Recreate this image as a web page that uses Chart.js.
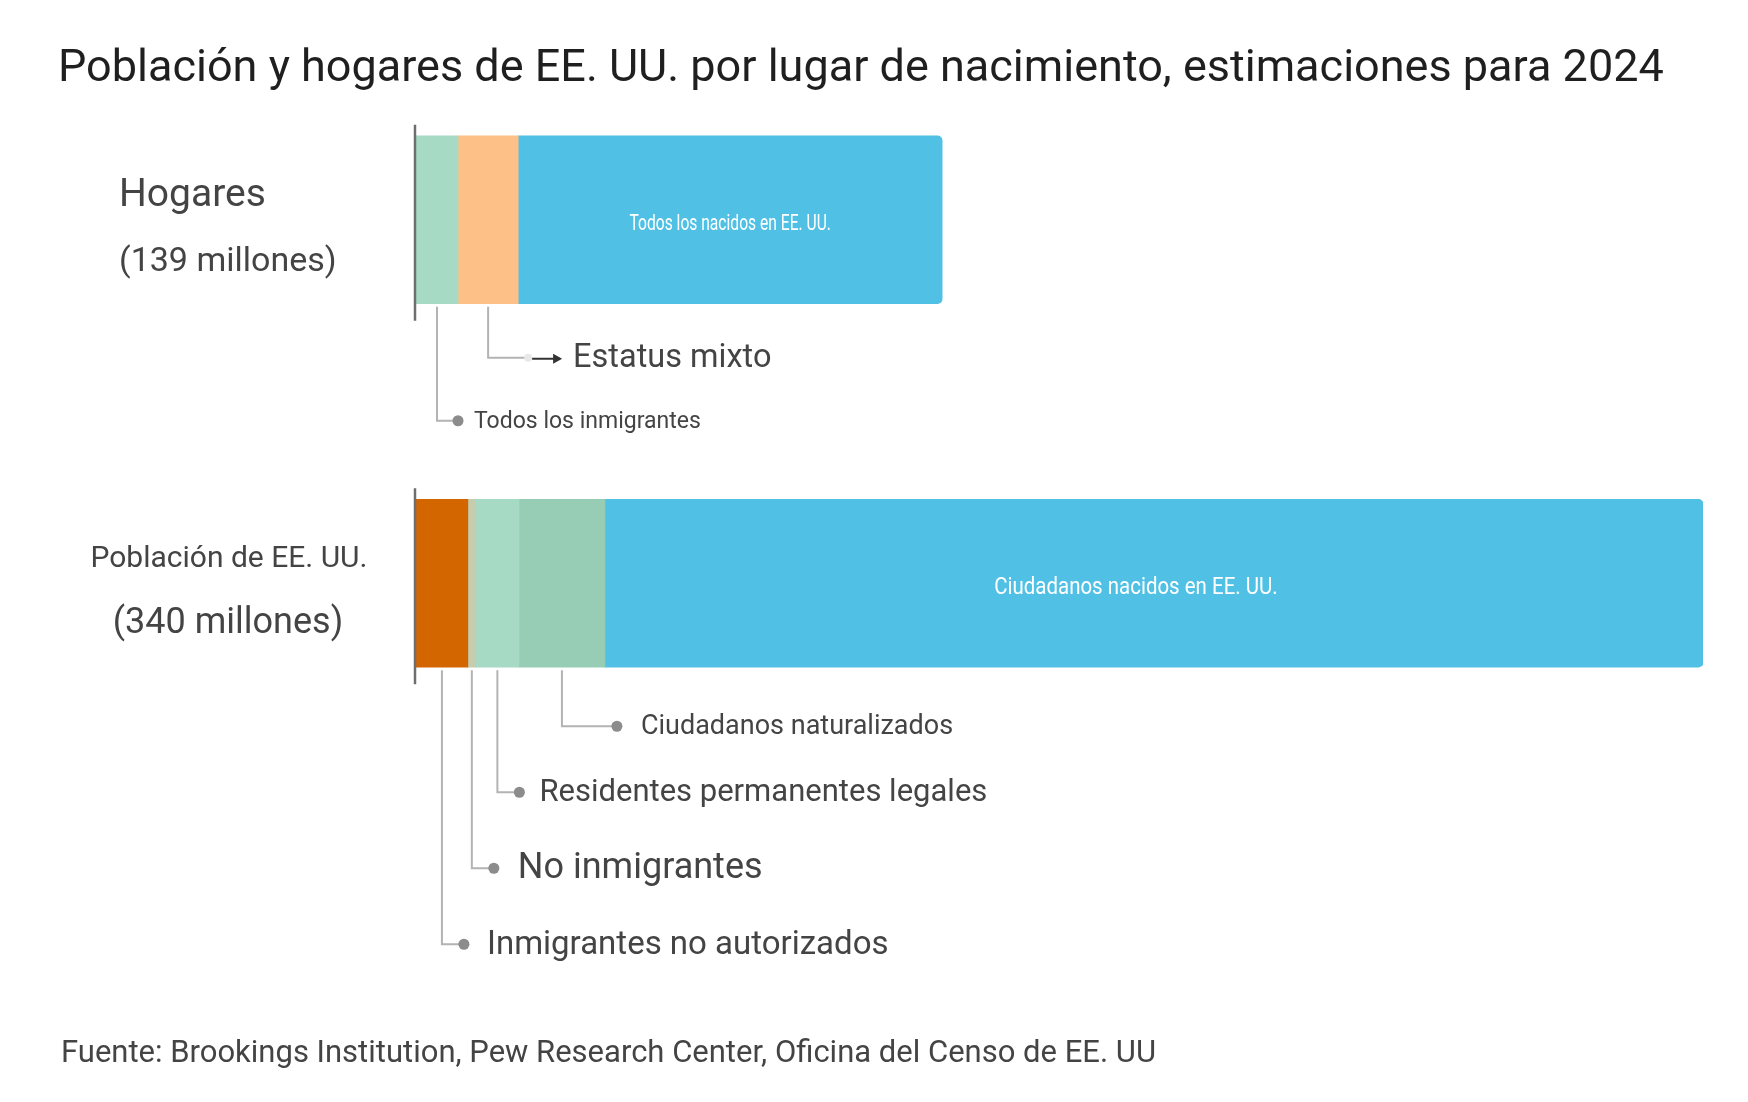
<!DOCTYPE html>
<html>
<head>
<meta charset="utf-8">
<script src="https://cdn.jsdelivr.net/npm/chart.js@4.4.1/dist/chart.umd.min.js"></script>
<style>
  html, body { margin: 0; background: #fff; }
  #wrap { width: 1748px; height: 1102px; position: relative; }
</style>
</head>
<body>
<div id="wrap"><canvas id="chart"></canvas></div>
<script>
const chartTitle = "Población y hogares de EE. UU. por lugar de nacimiento, estimaciones para 2024";
const sourceNote = "Fuente: Brookings Institution, Pew Research Center, Oficina del Censo de EE. UU";

const rows = ["Hogares", "Población de EE. UU."];
const rowTotals = ["(139 millones)", "(340 millones)"];

const householdLabels = ["Todos los inmigrantes", "Estatus mixto", "Todos los nacidos en EE. UU."];
const householdValues = [11.1, 15.9, 112.0];
const householdColors = ["#a6dac5", "#fdc086", "#50c1e5"];

const populationLabels = ["Inmigrantes no autorizados", "No inmigrantes", "Residentes permanentes legales",
                          "Ciudadanos naturalizados", "Ciudadanos nacidos en EE. UU."];
const populationValues = [13.7, 2.1, 11.4, 22.7, 290.1];
const populationColors = ["#d46600", "#c6ccae", "#a6dac5", "#97cdb5", "#50c1e5"];

const axisMax = 340;
const FONT = "Roboto, 'Noto Sans', sans-serif";

// how each segment is labelled (keyed by dataset index)
const callouts = {
    0: { kind: "dot", drop: 117, dotDx: 21, textDx: 16, size: 23 },
    1: { kind: "arrow", drop: 54, size: 32.5 },
    2: { kind: "inside", size: 22, squeeze: 0.71, dx: 0 },
    3: { kind: "dot", drop: 277, dotDx: 22, textDx: 23, size: 33 },
    4: { kind: "dot", drop: 201, dotDx: 22, textDx: 24, size: 36 },
    5: { kind: "dot", drop: 125, dotDx: 22, textDx: 20, size: 31 },
    6: { kind: "dot", drop: 59, dotDx: 55, textDx: 24, size: 27 },
    7: { kind: "inside", size: 23, squeeze: 0.89, dx: -18 }
};

const datasets = [];
householdLabels.forEach((label, i) => {
    datasets.push({ label, data: [householdValues[i], null], backgroundColor: householdColors[i] });
});
populationLabels.forEach((label, i) => {
    datasets.push({ label, data: [null, populationValues[i]], backgroundColor: populationColors[i] });
});
datasets.forEach(ds => {
    ds.barThickness = 168;
    ds.borderWidth = 0;
    ds.borderRadius = 5;
    ds.borderSkipped = "start";
});

const annotate = {
    id: "annotate",
    afterDraw(chart) {
        const ctx = chart.ctx;
        ctx.save();

        ctx.fillStyle = "#1f1f1f";
        ctx.font = "45px " + FONT;
        ctx.textBaseline = "alphabetic";
        ctx.textAlign = "left";
        ctx.fillText(chartTitle, 58, 81);

        ctx.fillStyle = "#444";
        ctx.font = "31px " + FONT;
        ctx.fillText(sourceNote, 61, 1062);

        // row captions and axis stubs
        rows.forEach((row, r) => {
            const first = chart.getDatasetMeta(r === 0 ? 0 : householdLabels.length).data[r];
            const cy = first.y;
            const half = first.height / 2;
            ctx.fillStyle = "#444";
            if (r === 0) {
                ctx.textAlign = "left";
                ctx.font = "39px " + FONT;
                ctx.fillText(row, 119, cy - 14);
                ctx.font = "34px " + FONT;
                ctx.fillText(rowTotals[r], 119, cy + 51);
            } else {
                ctx.textAlign = "center";
                ctx.font = "30px " + FONT;
                ctx.fillText(row, 229, cy - 16);
                ctx.font = "36px " + FONT;
                ctx.fillText(rowTotals[r], 228, cy + 50);
            }
            ctx.strokeStyle = "#6e6e6e";
            ctx.lineWidth = 2.5;
            ctx.beginPath();
            ctx.moveTo(first.base - 1, cy - half - 11);
            ctx.lineTo(first.base - 1, cy + half + 17);
            ctx.stroke();
        });

        // segment callouts
        chart.data.datasets.forEach((ds, i) => {
            const c = callouts[i];
            const row = i < householdLabels.length ? 0 : 1;
            const bar = chart.getDatasetMeta(i).data[row];
            if (!c || !bar) return;
            const mid = (bar.x + bar.base) / 2;
            const bottom = bar.y + bar.height / 2;

            if (c.kind === "inside") {
                ctx.save();
                ctx.translate(mid + c.dx, bar.y + 5);
                ctx.scale(c.squeeze, 1);
                ctx.fillStyle = "#ffffff";
                ctx.font = c.size + "px " + FONT;
                ctx.textAlign = "center";
                ctx.textBaseline = "middle";
                ctx.fillText(ds.label, 0, 0);
                ctx.restore();
                return;
            }

            const ly = bottom + c.drop;
            ctx.strokeStyle = "#b3b3b3";
            ctx.lineWidth = 2;
            ctx.beginPath();
            ctx.moveTo(mid, bottom + 3);
            ctx.lineTo(mid, ly);

            ctx.textAlign = "left";
            ctx.textBaseline = "middle";
            ctx.font = c.size + "px " + FONT;

            if (c.kind === "dot") {
                const dx = mid + c.dotDx;
                ctx.lineTo(dx, ly);
                ctx.stroke();
                ctx.fillStyle = "#8c8c8c";
                ctx.beginPath();
                ctx.arc(dx, ly, 5.5, 0, Math.PI * 2);
                ctx.fill();
                ctx.fillStyle = "#444";
                ctx.fillText(ds.label, dx + c.textDx, ly + 1);
            } else {
                const end = mid + 38;
                ctx.lineTo(end, ly);
                ctx.stroke();
                ctx.fillStyle = "#e8e8e8";
                ctx.beginPath();
                ctx.arc(end + 2, ly, 4, 0, Math.PI * 2);
                ctx.fill();
                // arrow
                ctx.strokeStyle = "#333";
                ctx.lineWidth = 2;
                ctx.beginPath();
                ctx.moveTo(end + 6, ly + 1);
                ctx.lineTo(end + 34, ly + 1);
                ctx.stroke();
                ctx.fillStyle = "#333";
                ctx.beginPath();
                ctx.moveTo(end + 36, ly + 1);
                ctx.lineTo(end + 27, ly - 4);
                ctx.lineTo(end + 27, ly + 6);
                ctx.closePath();
                ctx.fill();
                ctx.fillStyle = "#444";
                ctx.fillText(ds.label, end + 47, ly + 1);
            }
        });

        ctx.restore();
    }
};

new Chart(document.getElementById("chart"), {
    type: "bar",
    data: { labels: rows, datasets },
    options: {
        indexAxis: "y",
        responsive: true,
        maintainAspectRatio: false,
        animation: false,
        devicePixelRatio: 1,
        layout: { padding: { left: 416, right: 45, top: 38, bottom: 337 } },
        plugins: {
            legend: { display: false },
            title: { display: false },
            tooltip: { enabled: false }
        },
        scales: {
            x: { stacked: true, min: 0, max: axisMax, display: false, grid: { display: false } },
            y: { stacked: true, display: false, grid: { display: false } }
        }
    },
    plugins: [annotate]
});
</script>
</body>
</html>
